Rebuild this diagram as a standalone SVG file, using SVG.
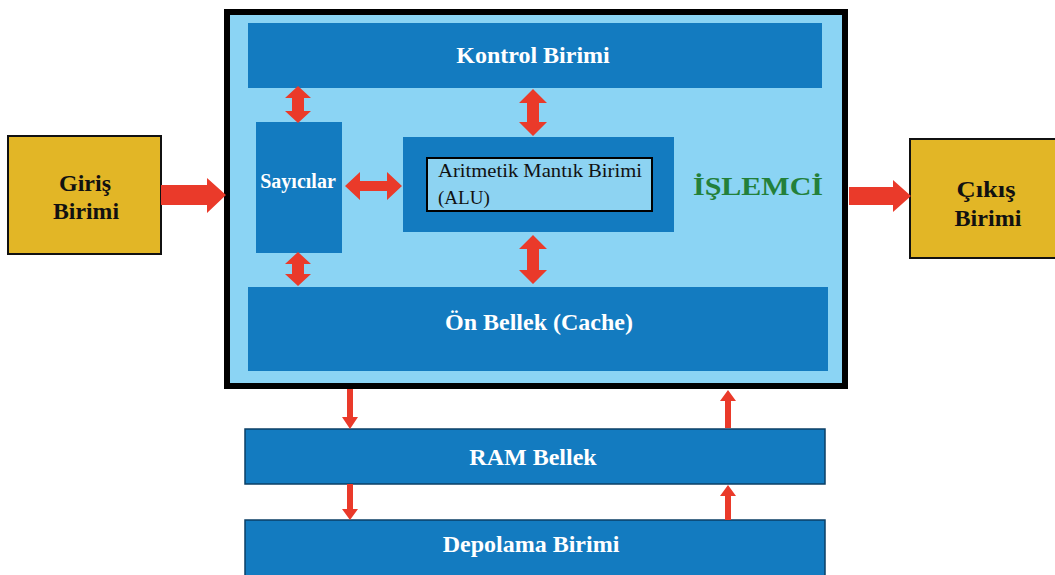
<svg xmlns="http://www.w3.org/2000/svg" width="1055" height="575" viewBox="0 0 1055 575">
<style>
.bg{fill:#ffffff}
.cpu{fill:#8bd4f4;stroke:#000;stroke-width:6}
.blk{fill:#137bc0}
.blkb{fill:#137bc0;stroke:#0b3f66;stroke-width:1.5}
.gold{fill:#e2b626;stroke:#111;stroke-width:2}
.alu{fill:#8dd3f2;stroke:#000;stroke-width:2}
.wt{font-family:"Liberation Serif",serif;font-weight:bold;fill:#fff;text-anchor:middle}
.bt{font-family:"Liberation Serif",serif;font-weight:bold;fill:#111;text-anchor:middle}
.rt{font-family:"Liberation Serif",serif;fill:#111}
.gt{font-family:"Liberation Serif",serif;font-weight:bold;fill:#23803a;text-anchor:middle}
.arr{fill:#ea3a2a}
</style>
<rect class="bg" x="0" y="0" width="1055" height="575"/>
<g id="islemci">
<rect class="cpu" x="227" y="12" width="618" height="374"/>
<text class="gt" x="758" y="195" font-size="25" textLength="130" lengthAdjust="spacingAndGlyphs">İŞLEMCİ</text>
</g>
<g id="kontrol">
<rect class="blk" x="248" y="23" width="574" height="65"/>
<text class="wt" x="533" y="63" font-size="24">Kontrol Birimi</text>
</g>
<g id="sayicilar">
<rect class="blk" x="256" y="122" width="86" height="131"/>
<text class="wt" x="298" y="188" font-size="20">Sayıcılar</text>
</g>
<g id="alu">
<rect class="blk" x="403" y="137" width="271" height="95"/>
<rect class="alu" x="427" y="158" width="225" height="53"/>
<text class="rt" x="438" y="177" font-size="19" textLength="204" lengthAdjust="spacingAndGlyphs">Aritmetik Mantık Birimi</text>
<text class="rt" x="438" y="204" font-size="19">(ALU)</text>
</g>
<g id="onbellek">
<rect class="blk" x="248" y="287" width="580" height="84"/>
<text class="wt" x="539" y="330" font-size="24">Ön Bellek (Cache)</text>
</g>
<g id="giris">
<rect class="gold" x="8" y="136" width="153" height="118"/>
<text class="bt" x="85" y="191" font-size="23" textLength="52" lengthAdjust="spacingAndGlyphs">Giriş</text>
<text class="bt" x="86" y="219" font-size="23" textLength="66" lengthAdjust="spacingAndGlyphs">Birimi</text>
</g>
<g id="cikis">
<rect class="gold" x="910" y="139" width="150" height="119"/>
<text class="bt" x="986" y="197" font-size="23" textLength="59" lengthAdjust="spacingAndGlyphs">Çıkış</text>
<text class="bt" x="988" y="226" font-size="23" textLength="67" lengthAdjust="spacingAndGlyphs">Birimi</text>
</g>
<g id="ram">
<rect class="blkb" x="245" y="429" width="580" height="55"/>
<text class="wt" x="533" y="465" font-size="24">RAM Bellek</text>
</g>
<g id="depolama">
<rect class="blkb" x="245" y="520" width="580" height="60"/>
<text class="wt" x="531" y="552" font-size="24">Depolama Birimi</text>
</g>
<g id="connectors" class="arr">
<polygon points="161,185 207,185 207,178 226,195 207,213 207,205 161,205"/>
<polygon points="849,187 893,187 893,180 911,196 893,212 893,205 849,205"/>
<polygon points="298,86 311,98 304,98 304,111 311,111 298,123 285,111 292,111 292,98 285,98"/>
<polygon points="533,89 547,103 539,103 539,122 547,122 533,136 519,122 527,122 527,103 519,103"/>
<polygon points="345,186 360,172 360,181 387,181 387,172 402,186 387,200 387,191 360,191 360,200"/>
<polygon points="298,252 311,264 304,264 304,274 311,274 298,286 285,274 292,274 292,264 285,264"/>
<polygon points="533,235 547,249 539,249 539,270 547,270 533,284 519,270 527,270 527,249 519,249"/>
<polygon points="347,389 353,389 353,417 358,417 350,429 342,417 347,417"/>
<polygon points="725,428 731,428 731,401 736,401 728,390 720,401 725,401"/>
<polygon points="347,484 353,484 353,509 358,509 350,520 342,509 347,509"/>
<polygon points="725,520 731,520 731,496 736,496 728,485 720,496 725,496"/>
</g>
</svg>
